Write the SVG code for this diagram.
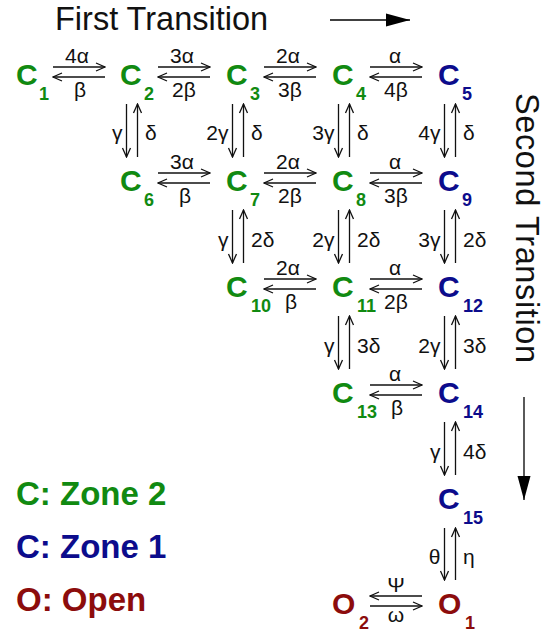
<svg xmlns="http://www.w3.org/2000/svg" width="544" height="633" viewBox="0 0 544 633">
<style>
  .n { font-family: "Liberation Sans", Arial, sans-serif; font-weight: bold; font-size: 30px; }
  .s { font-family: "Liberation Sans", Arial, sans-serif; font-weight: bold; font-size: 18px; }
  .g { fill: #118a11; }
  .b { fill: #0c0c8c; }
  .r { fill: #8c0c0c; }
  .lb { font-family: "Liberation Sans", Arial, sans-serif; font-size: 21px; fill: #111; }
  .c { text-anchor: middle; }
  .e { text-anchor: end; }
  .t { font-family: "Liberation Sans", Arial, sans-serif; font-size: 32.5px; fill: #111; }
  .lg { font-family: "Liberation Sans", Arial, sans-serif; font-weight: bold; font-size: 33px; }
  .ar { stroke: #111; stroke-width: 1.3; fill: none; marker-end: url(#ah); }
  .big { stroke: #000; stroke-width: 1.3; fill: none; marker-end: url(#fh); }
</style>
<defs>
  <marker id="ah" viewBox="-11 -6 12 12" refX="0" refY="0" markerWidth="12" markerHeight="12" markerUnits="userSpaceOnUse" orient="auto">
    <path d="M-9,-4 L0,0 L-9,4" fill="none" stroke="#111" stroke-width="1.3"/>
  </marker>
  <marker id="fh" viewBox="-25 -7 26 14" refX="0" refY="0" markerWidth="26" markerHeight="14" markerUnits="userSpaceOnUse" orient="auto">
    <path d="M-24,-6.5 L0,0 L-24,6.5 Z" fill="#000"/>
  </marker>
</defs>

<g id="titles">
  <text class="t" x="55" y="30">First Transition</text>
  <text class="t" transform="translate(516,93) rotate(90)" textLength="270" lengthAdjust="spacing">Second Transition</text>
  <line class="big" x1="330" y1="20" x2="410" y2="20"/>
  <line class="big" x1="524" y1="397" x2="524" y2="500"/>
</g>

<g id="legend">
  <text class="lg g" x="16" y="505">C: Zone 2</text>
  <text class="lg b" x="16" y="558">C: Zone 1</text>
  <text class="lg r" x="16" y="611">O: Open</text>
</g>

<g id="C1"><text class="n g" x="16" y="85">C</text><text class="s g" x="39" y="100">1</text></g>
<g id="C2"><text class="n g" x="120" y="85">C</text><text class="s g" x="144" y="100">2</text></g>
<g id="C3"><text class="n g" x="226" y="85">C</text><text class="s g" x="250" y="100">3</text></g>
<g id="C4"><text class="n g" x="332" y="85">C</text><text class="s g" x="356" y="100">4</text></g>
<g id="C5"><text class="n b" x="438" y="85">C</text><text class="s b" x="462" y="100">5</text></g>
<g id="C6"><text class="n g" x="120" y="191">C</text><text class="s g" x="144" y="206">6</text></g>
<g id="C7"><text class="n g" x="226" y="191">C</text><text class="s g" x="250" y="206">7</text></g>
<g id="C8"><text class="n g" x="332" y="191">C</text><text class="s g" x="356" y="206">8</text></g>
<g id="C9"><text class="n b" x="438" y="191">C</text><text class="s b" x="462" y="206">9</text></g>
<g id="C10"><text class="n g" x="226" y="297">C</text><text class="s g" x="251" y="312">10</text></g>
<g id="C11"><text class="n g" x="332" y="297">C</text><text class="s g" x="357" y="312">11</text></g>
<g id="C12"><text class="n b" x="438" y="297">C</text><text class="s b" x="463" y="312">12</text></g>
<g id="C13"><text class="n g" x="332" y="403">C</text><text class="s g" x="357" y="418">13</text></g>
<g id="C14"><text class="n b" x="438" y="403">C</text><text class="s b" x="463" y="418">14</text></g>
<g id="C15"><text class="n b" x="438" y="509">C</text><text class="s b" x="463" y="524">15</text></g>
<g id="O2"><text class="n r" x="332" y="614">O</text><text class="s r" x="359" y="629">2</text></g>
<g id="O1"><text class="n r" x="438" y="614">O</text><text class="s r" x="465" y="629">1</text></g>

<g id="connectors">
  <line class="ar" x1="53" y1="67" x2="105" y2="67"/><line class="ar" x1="105" y1="77" x2="53" y2="77"/>
  <line class="ar" x1="158" y1="67" x2="210" y2="67"/><line class="ar" x1="210" y1="77" x2="158" y2="77"/>
  <line class="ar" x1="264" y1="67" x2="316" y2="67"/><line class="ar" x1="316" y1="77" x2="264" y2="77"/>
  <line class="ar" x1="370" y1="67" x2="422" y2="67"/><line class="ar" x1="422" y1="77" x2="370" y2="77"/>
  <line class="ar" x1="158" y1="173" x2="210" y2="173"/><line class="ar" x1="210" y1="183" x2="158" y2="183"/>
  <line class="ar" x1="264" y1="173" x2="316" y2="173"/><line class="ar" x1="316" y1="183" x2="264" y2="183"/>
  <line class="ar" x1="370" y1="173" x2="422" y2="173"/><line class="ar" x1="422" y1="183" x2="370" y2="183"/>
  <line class="ar" x1="264" y1="279" x2="316" y2="279"/><line class="ar" x1="316" y1="289" x2="264" y2="289"/>
  <line class="ar" x1="370" y1="279" x2="422" y2="279"/><line class="ar" x1="422" y1="289" x2="370" y2="289"/>
  <line class="ar" x1="370" y1="385" x2="422" y2="385"/><line class="ar" x1="422" y1="395" x2="370" y2="395"/>
  <line class="ar" x1="422" y1="596" x2="370" y2="596"/><line class="ar" x1="370" y1="606" x2="422" y2="606"/>
  <line class="ar" x1="126.5" y1="104" x2="126.5" y2="157"/><line class="ar" x1="137.5" y1="157" x2="137.5" y2="104"/>
  <line class="ar" x1="232.5" y1="104" x2="232.5" y2="157"/><line class="ar" x1="243.5" y1="157" x2="243.5" y2="104"/>
  <line class="ar" x1="338.5" y1="104" x2="338.5" y2="157"/><line class="ar" x1="349.5" y1="157" x2="349.5" y2="104"/>
  <line class="ar" x1="444.5" y1="104" x2="444.5" y2="157"/><line class="ar" x1="455.5" y1="157" x2="455.5" y2="104"/>
  <line class="ar" x1="232.5" y1="210" x2="232.5" y2="263"/><line class="ar" x1="243.5" y1="263" x2="243.5" y2="210"/>
  <line class="ar" x1="338.5" y1="210" x2="338.5" y2="263"/><line class="ar" x1="349.5" y1="263" x2="349.5" y2="210"/>
  <line class="ar" x1="444.5" y1="210" x2="444.5" y2="263"/><line class="ar" x1="455.5" y1="263" x2="455.5" y2="210"/>
  <line class="ar" x1="338.5" y1="316" x2="338.5" y2="369"/><line class="ar" x1="349.5" y1="369" x2="349.5" y2="316"/>
  <line class="ar" x1="444.5" y1="316" x2="444.5" y2="369"/><line class="ar" x1="455.5" y1="369" x2="455.5" y2="316"/>
  <line class="ar" x1="444.5" y1="422" x2="444.5" y2="475"/><line class="ar" x1="455.5" y1="475" x2="455.5" y2="422"/>
  <line class="ar" x1="444.5" y1="528" x2="444.5" y2="580"/><line class="ar" x1="455.5" y1="580" x2="455.5" y2="528"/>

  <text class="lb c" x="77" y="63">4α</text><text class="lb c" x="80" y="97">β</text>
  <text class="lb c" x="182" y="63">3α</text><text class="lb c" x="184" y="97">2β</text>
  <text class="lb c" x="288" y="63">2α</text><text class="lb c" x="290" y="97">3β</text>
  <text class="lb c" x="395" y="63">α</text><text class="lb c" x="396" y="97">4β</text>

  <text class="lb c" x="182" y="169">3α</text><text class="lb c" x="185" y="203">β</text>
  <text class="lb c" x="288" y="169">2α</text><text class="lb c" x="290" y="203">2β</text>
  <text class="lb c" x="395" y="169">α</text><text class="lb c" x="396" y="203">3β</text>

  <text class="lb c" x="288" y="275">2α</text><text class="lb c" x="291" y="309">β</text>
  <text class="lb c" x="395" y="275">α</text><text class="lb c" x="396" y="309">2β</text>

  <text class="lb c" x="395" y="381">α</text><text class="lb c" x="397" y="415">β</text>

  <text class="lb c" x="396" y="592">Ψ</text><text class="lb c" x="396" y="622">ω</text>

  <text class="lb e" x="122.5" y="140">γ</text><text class="lb" x="145" y="140">δ</text>
  <text class="lb e" x="228.5" y="140">2γ</text><text class="lb" x="251" y="140">δ</text>
  <text class="lb e" x="334.5" y="140">3γ</text><text class="lb" x="357" y="140">δ</text>
  <text class="lb e" x="440.5" y="140">4γ</text><text class="lb" x="463" y="140">δ</text>

  <text class="lb e" x="228.5" y="247">γ</text><text class="lb" x="251" y="247">2δ</text>
  <text class="lb e" x="334.5" y="247">2γ</text><text class="lb" x="357" y="247">2δ</text>
  <text class="lb e" x="440.5" y="247">3γ</text><text class="lb" x="463" y="247">2δ</text>

  <text class="lb e" x="334.5" y="353">γ</text><text class="lb" x="357" y="353">3δ</text>
  <text class="lb e" x="440.5" y="353">2γ</text><text class="lb" x="463" y="353">3δ</text>

  <text class="lb e" x="440.5" y="459">γ</text><text class="lb" x="463" y="459">4δ</text>

  <text class="lb e" x="440.5" y="564">θ</text><text class="lb" x="463" y="564">η</text>
</g>
</svg>
